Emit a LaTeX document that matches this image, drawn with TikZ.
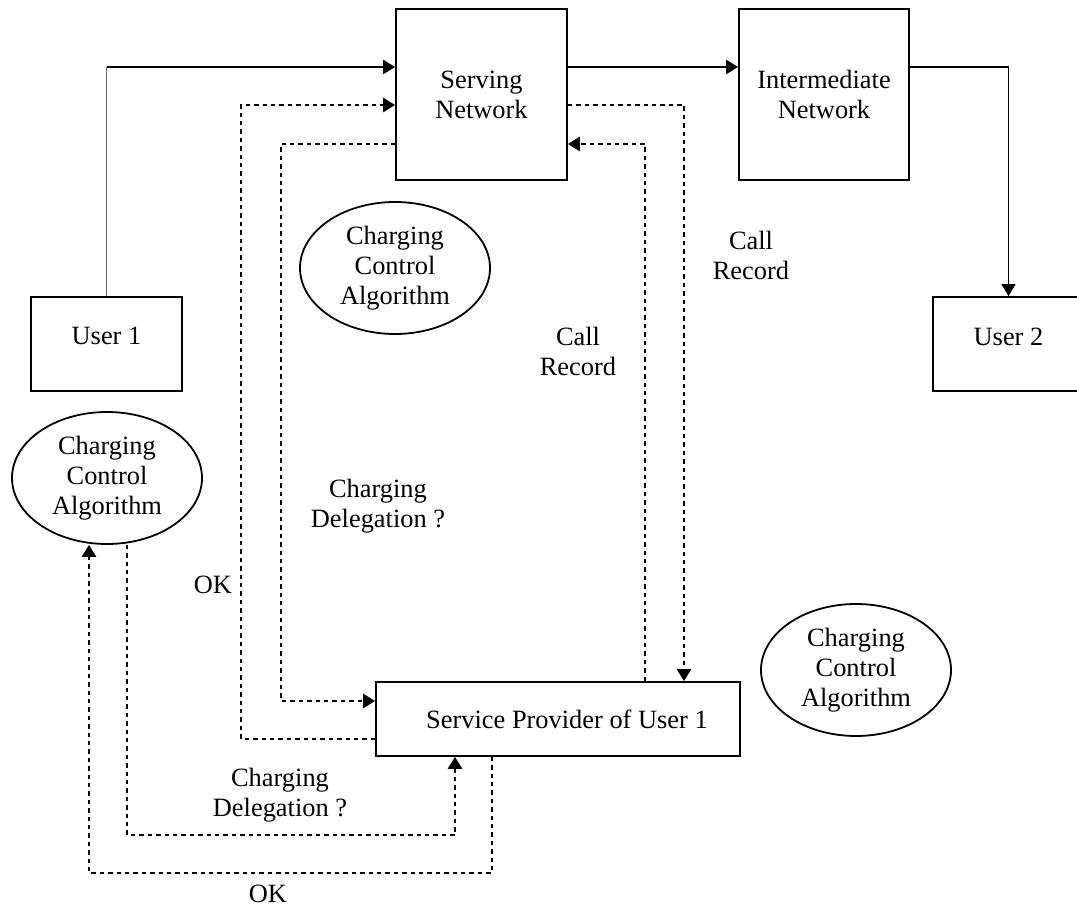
\documentclass[tikz,border=0pt]{standalone}
\usepackage{fontspec}
\setmainfont{Liberation Serif}
\usetikzlibrary{arrows.meta,shapes.geometric}

\begin{document}
\begin{tikzpicture}[x=0.5pt,y=-0.5pt,
  every node/.style={font=\fontsize{13.2}{15}\selectfont,align=center},
  box/.style={draw,line width=0.9pt,inner sep=0pt},
  algo/.style={draw,ellipse,line width=0.9pt,inner sep=0pt,
    minimum width=95pt,minimum height=66pt},
  wire/.style={line width=1.2pt,-{Triangle[length=6pt,width=7pt]}},
  dotwire/.style={line width=1.3pt,dash pattern=on 2.2pt off 2pt,
    -{Triangle[length=6pt,width=7pt]}}]
  % Display coordinates in pixels, y pointing down.
  \useasboundingbox (0,0) rectangle (1077,908);

  % Networks and users.
  \node[box,minimum width=85.5pt,minimum height=85.5pt] (serving) at (481.5,94.5) {Serving\\Network};
  \node[box,minimum width=85pt,minimum height=85.5pt] (inter) at (824,94.5) {Intermediate\\Network};
  \node[box,minimum width=75.5pt,minimum height=47pt,text depth=8pt] (user1) at (106.5,344) {User 1};
  \node[box,minimum width=75.5pt,minimum height=47pt,text depth=7pt] (user2) at (1008.5,344) {User 2};
  \node[box,minimum width=182pt,minimum height=37pt] (sp) at (558,719) {\hspace*{9pt}Service Provider of User 1};

  % Charging control algorithms.
  \node[algo] (cca) at (395,268) {Charging\\Control\\Algorithm};
  \node[algo] (ccl) at (107,478) {Charging\\Control\\Algorithm};
  \node[algo] (ccr) at (856,670) {Charging\\Control\\Algorithm};

  % Levels and columns of the wires.
  \coordinate (ytop) at (0,67);
  \coordinate (ya) at (0,105);
  \coordinate (yb) at (0,144);
  \coordinate (yin) at (0,701);
  \coordinate (yout) at (0,739);
  \coordinate (yd1) at (0,835);
  \coordinate (yd2) at (0,873);
  \coordinate (xl1) at (241,0);
  \coordinate (xl2) at (281,0);
  \coordinate (xr1) at (645,0);
  \coordinate (xr2) at (684,0);
  \coordinate (xc1) at (89,0);
  \coordinate (xc2) at (127,0);
  \coordinate (xs1) at (455,0);
  \coordinate (xs2) at (492,0);
  \coordinate (corner) at (user1.north |- ytop);

  % Call path.
  \draw[line width=0.8pt,black!60] (user1.north) -- (corner);
  \draw[wire] (corner) -- (serving.west |- ytop);
  \draw[wire] (serving.east |- ytop) -- (inter.west |- ytop);
  \draw[wire,line width=0.6pt] (inter.east |- ytop) -| (user2.north);

  % Delegation between serving network and service provider.
  \draw[dotwire] (sp.west |- yout) -| (xl1 |- ya) -- (serving.west |- ya);
  \draw[dotwire] (serving.west |- yb) -| (xl2 |- yin) -- (sp.west |- yin);
  \draw[dotwire] (serving.east |- ya) -| (sp.north -| xr2);
  \draw[dotwire] (sp.north -| xr1) |- (serving.east |- yb);

  % Delegation between user 1 and service provider.
  \draw[dotwire] (ccl.south -| xc2) |- (xs1 |- yd1) -- (sp.south -| xs1);
  \draw[dotwire] (sp.south -| xs2) |- (xc1 |- yd2) -- (ccl.south -| xc1);

  % Message labels.
  \node (rec1) at (751,255) {Call\\Record};
  \node (rec2) at (578,351) {Call\\Record};
  \node (del1) at (378,506) {Charging\\Delegation ?};
  \node (ok1) at (213,585) {OK};
  \node (del2) at (280,795) {Charging\\Delegation ?};
  \node (ok2) at (268,894) {OK};
\end{tikzpicture}
\end{document}
